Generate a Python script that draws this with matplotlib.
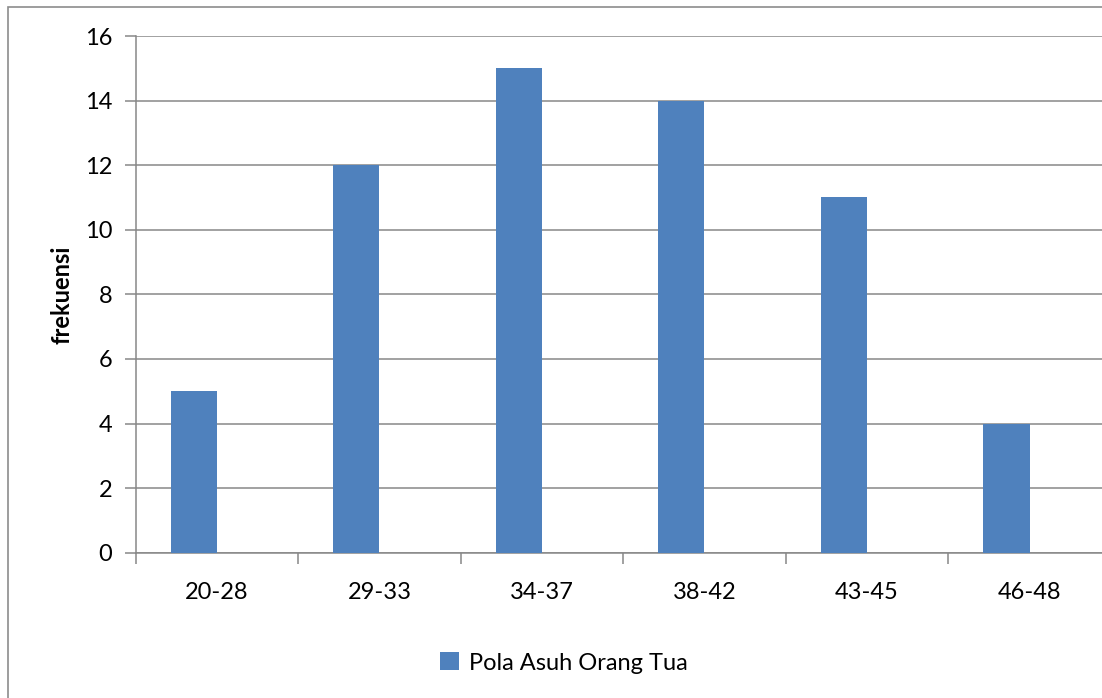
import matplotlib.pyplot as plt
from matplotlib.patches import Rectangle
import numpy as np

categories = ['20-28', '29-33', '34-37', '38-42', '43-45', '46-48']
frekuensi = [5, 12, 15, 14, 11, 4]
series_name = 'Pola Asuh Orang Tua'
yticks = [0, 2, 4, 6, 8, 10, 12, 14, 16]

plt.rcParams['font.family'] = ['Lato', 'DejaVu Sans']
grid_col = '#878787'
bar_col = '#4F81BD'

fig = plt.figure(figsize=(11.02, 6.98), dpi=100)
ax = fig.add_axes([0.1231, 0.2082, 0.8849, 0.7402])

x = np.arange(len(categories))
# bar sits left of the category centre (second empty series in the original)
ax.bar(x - 0.1425, frekuensi, width=0.285, color=bar_col, zorder=3,
       label=series_name)

ax.set_xlim(-0.5, len(categories) - 0.5)
ax.set_ylim(0, 16)
ax.set_yticks(yticks)
ax.set_xticks(x)
ax.set_xticklabels(categories)
ax.set_xticks(np.arange(len(categories) + 1) - 0.5, minor=True)
ax.grid(axis='y', color=grid_col, linewidth=1.1, zorder=0)

for s in ['top', 'right']:
    ax.spines[s].set_visible(False)
for s in ['left', 'bottom']:
    ax.spines[s].set_color(grid_col)
    ax.spines[s].set_linewidth(1.1)

ax.tick_params(axis='y', which='major', length=8, width=1.1, color=grid_col,
               labelsize=17, pad=9)
ax.tick_params(axis='x', which='major', length=0, labelsize=17, pad=21)
ax.tick_params(axis='x', which='minor', length=8, width=1.1, color=grid_col)

ax.set_ylabel('frekuensi', fontsize=17, fontweight='bold')
ax.yaxis.set_label_coords(74 / 1102, 1 - 295 / 698, transform=fig.transFigure)

ax.legend(loc='center', bbox_to_anchor=(564 / 1102, 1 - 663 / 698),
          bbox_transform=fig.transFigure, frameon=False, fontsize=17,
          handlelength=0.8, handleheight=0.8, handletextpad=0.4)

# outer chart border
fig.patches.append(Rectangle((8 / 1102, -0.1), 1.2, 1 - 7 / 698 + 0.1,
                             transform=fig.transFigure, fill=False,
                             edgecolor='#8c8c8c', linewidth=1.2))

fig.savefig('out.png', dpi=100)
